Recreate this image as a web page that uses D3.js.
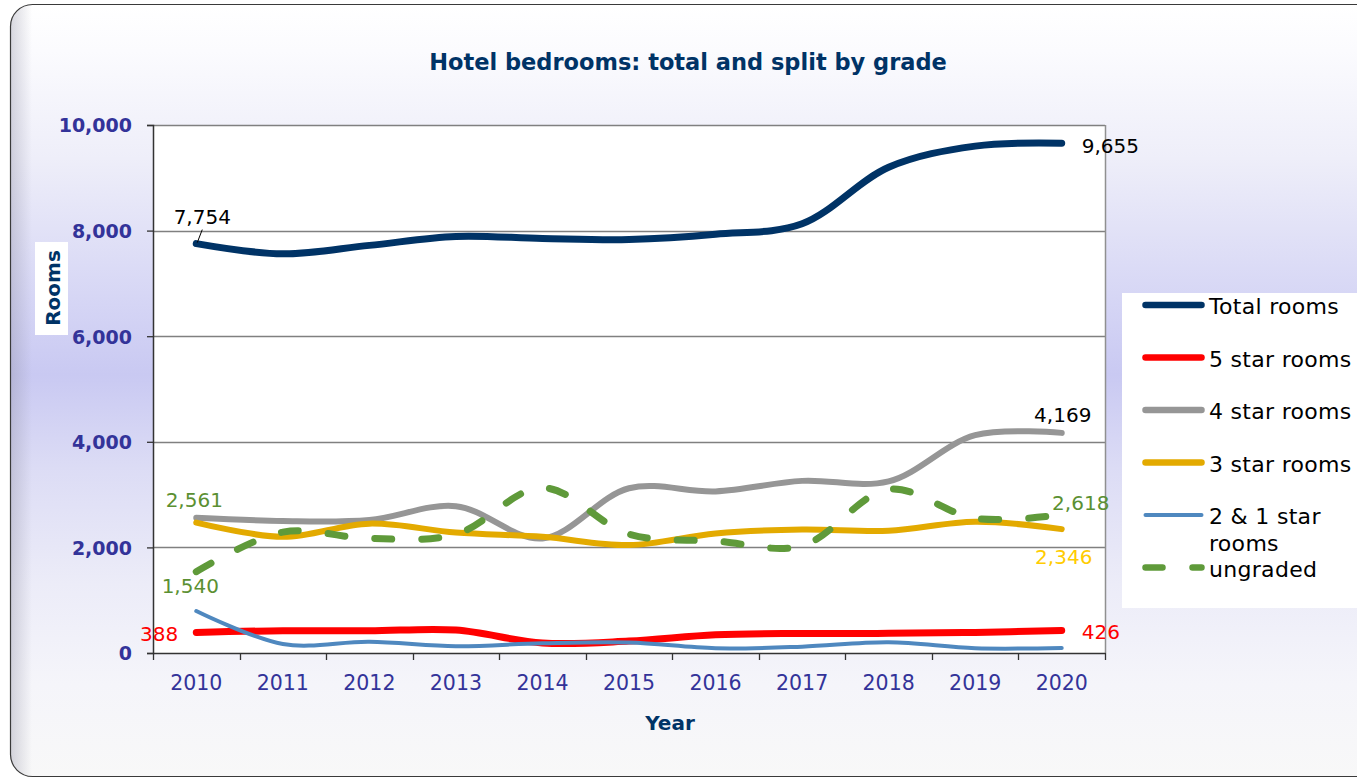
<!DOCTYPE html>
<html>
<head>
<meta charset="utf-8">
<script src="https://cdn.jsdelivr.net/npm/d3@7"></script>
<style>
  html, body { margin: 0; padding: 0; background: #ffffff; }
  svg { display: block; }
</style>
</head>
<body>
<svg id="chart" width="1357" height="779"></svg>
<script>
// ---------- data ----------
const years = [2010, 2011, 2012, 2013, 2014, 2015, 2016, 2017, 2018, 2019, 2020];
const totalRooms = [7754, 7560, 7720, 7890, 7850, 7830, 7930, 8130, 9200, 9600, 9655];
const fiveStar   = [388, 422, 420, 435, 190, 225, 345, 370, 372, 390, 426];
const fourStar   = [2561, 2500, 2520, 2780, 2170, 3120, 3060, 3260, 3250, 4126, 4169];
const threeStar  = [2470, 2200, 2450, 2280, 2200, 2044, 2265, 2340, 2315, 2486, 2346];
const twoOneStar = [795, 170, 215, 130, 185, 200, 90, 120, 202, 90, 96];
const ungraded   = [1540, 2290, 2170, 2250, 3130, 2250, 2120, 2030, 3100, 2549, 2618];
const yTicks = [0, 2000, 4000, 6000, 8000, 10000];
const seriesNames = ["Total rooms", "5 star rooms", "4 star rooms", "3 star rooms", "2 & 1 star rooms", "ungraded"];

// ---------- setup ----------
const svg = d3.select("#chart");
const plot = { left: 153, right: 1105, top: 125, bottom: 653 };
const FONT = "'DejaVu Sans', Verdana, sans-serif";

const defs = svg.append("defs");
const bg = defs.append("linearGradient").attr("id", "bg").attr("x1", 0).attr("y1", 0).attr("x2", 0).attr("y2", 1);
[[0, "#ffffff"], [0.06, "#fbfbfe"], [0.2, "#eeeef9"], [0.38, "#d6d6f5"], [0.48, "#c9c9f2"],
 [0.6, "#dcdcf5"], [0.75, "#ececf8"], [0.88, "#f5f5fa"], [1, "#f8f8f8"]]
  .forEach(([o, c]) => bg.append("stop").attr("offset", o).attr("stop-color", c));
const edge = defs.append("linearGradient").attr("id", "edge").attr("x1", 0).attr("y1", 0).attr("x2", 1).attr("y2", 0);
edge.append("stop").attr("offset", 0).attr("stop-color", "#8c8ca0").attr("stop-opacity", 0.35);
edge.append("stop").attr("offset", 1).attr("stop-color", "#8c8ca0").attr("stop-opacity", 0);
defs.append("clipPath").attr("id", "frameClip").append("rect")
  .attr("x", 10.5).attr("y", 4.5).attr("width", 1370).attr("height", 772).attr("rx", 22);

// frame
svg.append("rect").attr("x", 10.5).attr("y", 4.5).attr("width", 1370).attr("height", 772)
  .attr("rx", 22).attr("fill", "url(#bg)").attr("stroke", "none");
svg.append("rect").attr("x", 10).attr("y", 0).attr("width", 22).attr("height", 779)
  .attr("fill", "url(#edge)").attr("clip-path", "url(#frameClip)");
svg.append("rect").attr("x", 10.5).attr("y", 4.5).attr("width", 1370).attr("height", 772)
  .attr("rx", 22).attr("fill", "none").attr("stroke", "#3a3a3a").attr("stroke-width", 1.2);

// scales
const x = d3.scaleBand().domain(years).range([plot.left, plot.right]).padding(0);
const cx = d => x(d) + x.bandwidth() / 2;
const y = d3.scaleLinear().domain([0, 10000]).range([plot.bottom, plot.top]);

// plot area
svg.append("rect").attr("x", plot.left).attr("y", plot.top)
  .attr("width", plot.right - plot.left).attr("height", plot.bottom - plot.top).attr("fill", "#ffffff");

// gridlines
svg.append("g").selectAll("line").data(yTicks.filter(t => t > 0)).join("line")
  .attr("x1", plot.left).attr("x2", plot.right)
  .attr("y1", d => Math.round(y(d)) + 0.5).attr("y2", d => Math.round(y(d)) + 0.5)
  .attr("stroke", "#808080").attr("stroke-width", 1.3);
// right border
svg.append("line").attr("x1", plot.right + 0.5).attr("x2", plot.right + 0.5)
  .attr("y1", plot.top).attr("y2", plot.bottom).attr("stroke", "#909090").attr("stroke-width", 1.5);

// y axis
const yAxis = svg.append("g").attr("transform", `translate(${plot.left},0)`)
  .call(d3.axisLeft(y).tickValues(yTicks).tickFormat(d3.format(",")).tickSize(6).tickPadding(15));
yAxis.select(".domain").attr("stroke", "#333333").attr("stroke-width", 1.5);
yAxis.selectAll(".tick line").attr("stroke", "#333333").attr("stroke-width", 1.3);
yAxis.selectAll(".tick text").attr("font-family", FONT).attr("font-size", 19)
  .attr("font-weight", "bold").attr("fill", "#333399").attr("dy", "0.36em");

// x axis
const xAxis = svg.append("g").attr("transform", `translate(0,${plot.bottom})`)
  .call(d3.axisBottom(x).tickSize(0).tickPadding(0));
xAxis.select(".domain").attr("stroke", "#333333").attr("stroke-width", 1.5);
xAxis.selectAll(".tick text").attr("font-family", FONT).attr("font-size", 20.5)
  .attr("fill", "#333399").attr("y", 37).attr("dy", 0);
const bounds = years.map(d => x(d)).concat([x.range()[1]]);
svg.append("g").selectAll("line").data(bounds).join("line")
  .attr("x1", d => Math.round(d) + 0.5).attr("x2", d => Math.round(d) + 0.5)
  .attr("y1", plot.bottom).attr("y2", plot.bottom + 7)
  .attr("stroke", "#333333").attr("stroke-width", 1.3);

// title & axis titles
svg.append("text").attr("x", 688).attr("y", 70).attr("text-anchor", "middle")
  .attr("font-family", FONT).attr("font-size", 22.5).attr("font-weight", "bold")
  .attr("fill", "#003366").text("Hotel bedrooms: total and split by grade");
svg.append("text").attr("x", 670).attr("y", 730).attr("text-anchor", "middle")
  .attr("font-family", FONT).attr("font-size", 20).attr("font-weight", "bold")
  .attr("fill", "#003366").text("Year");
svg.append("rect").attr("x", 35).attr("y", 242).attr("width", 33).attr("height", 93).attr("fill", "#ffffff");
svg.append("text").attr("transform", "translate(60,288) rotate(-90)").attr("text-anchor", "middle")
  .attr("font-family", FONT).attr("font-size", 20).attr("font-weight", "bold")
  .attr("fill", "#003366").text("Rooms");

// series
const series = [
  { name: seriesNames[0], values: totalRooms, color: "#003366", width: 7 },
  { name: seriesNames[1], values: fiveStar, color: "#ff0000", width: 7 },
  { name: seriesNames[2], values: fourStar, color: "#969696", width: 6 },
  { name: seriesNames[3], values: threeStar, color: "#e3aa00", width: 6 },
  { name: seriesNames[4], values: twoOneStar, color: "#4f88bf", width: 4 },
  { name: seriesNames[5], values: ungraded, color: "#5f9a3a", width: 7, dash: "17,30" }
];
const line = d3.line().x(d => cx(d.year)).y(d => y(d.v)).curve(d3.curveCatmullRom.alpha(0.5));
series.forEach(s => {
  svg.append("path")
    .datum(years.map((yr, i) => ({ year: yr, v: s.values[i] })))
    .attr("d", line).attr("fill", "none").attr("stroke", s.color)
    .attr("stroke-width", s.width).attr("stroke-linecap", "round").attr("stroke-linejoin", "round")
    .attr("stroke-dasharray", s.dash || null);
});

// data labels
const first = 0, last = years.length - 1;
const labels = [
  { v: totalRooms[first], i: first, dx: 6, dy: -19.5, anchor: "middle", color: "#000000" },
  { v: totalRooms[last], i: last, dx: 20, dy: 10, anchor: "start", color: "#000000" },
  { v: fourStar[last], i: last, dx: 1, dy: -11, anchor: "middle", color: "#000000" },
  { v: ungraded[last], i: last, dx: 19, dy: -5, anchor: "middle", color: "#5b9032" },
  { v: threeStar[last], i: last, dx: 2, dy: 35, anchor: "middle", color: "#ffcc00" },
  { v: fiveStar[last], i: last, dx: 20, dy: 8.5, anchor: "start", color: "#ff0000" },
  { v: fiveStar[first], i: first, dx: -18, dy: 8.5, anchor: "end", color: "#ff0000" },
  { v: fourStar[first], i: first, dx: -2, dy: -11, anchor: "middle", color: "#5b9032" },
  { v: ungraded[first], i: first, dx: -6, dy: 21, anchor: "middle", color: "#5b9032" }
];
svg.append("g").selectAll("text").data(labels).join("text")
  .attr("x", d => cx(years[d.i]) + d.dx).attr("y", d => y(d.v) + d.dy)
  .attr("text-anchor", d => d.anchor).attr("font-family", FONT).attr("font-size", 20)
  .attr("fill", d => d.color).text(d => d3.format(",")(d.v));
// leader line for first total label
svg.append("line").attr("x1", cx(years[0]) + 1).attr("y1", y(totalRooms[0]) - 1)
  .attr("x2", cx(years[0]) + 6).attr("y2", y(totalRooms[0]) - 14)
  .attr("stroke", "#000000").attr("stroke-width", 1);

// legend
svg.append("rect").attr("x", 1122).attr("y", 293).attr("width", 260).attr("height", 315).attr("fill", "#ffffff");
const legendY = [305, 357.5, 410, 462.5, 515, 567.5];
const lg = svg.append("g");
series.forEach((s, i) => {
  lg.append("line").attr("x1", 1145.5).attr("x2", 1201.5).attr("y1", legendY[i]).attr("y2", legendY[i])
    .attr("stroke", s.color).attr("stroke-width", s.width === 4 ? 4 : 6.5)
    .attr("stroke-linecap", "round").attr("stroke-dasharray", s.dash || null);
  const t = lg.append("text").attr("x", 1209).attr("y", legendY[i] + 9)
    .attr("font-family", FONT).attr("font-size", 22).attr("letter-spacing", 0.3).attr("fill", "#000000");
  if (s.name === "2 & 1 star rooms") {
    t.append("tspan").attr("x", 1209).text("2 & 1 star");
    t.append("tspan").attr("x", 1209).attr("dy", 27).text("rooms");
  } else {
    t.text(s.name);
  }
});
</script>
</body>
</html>
